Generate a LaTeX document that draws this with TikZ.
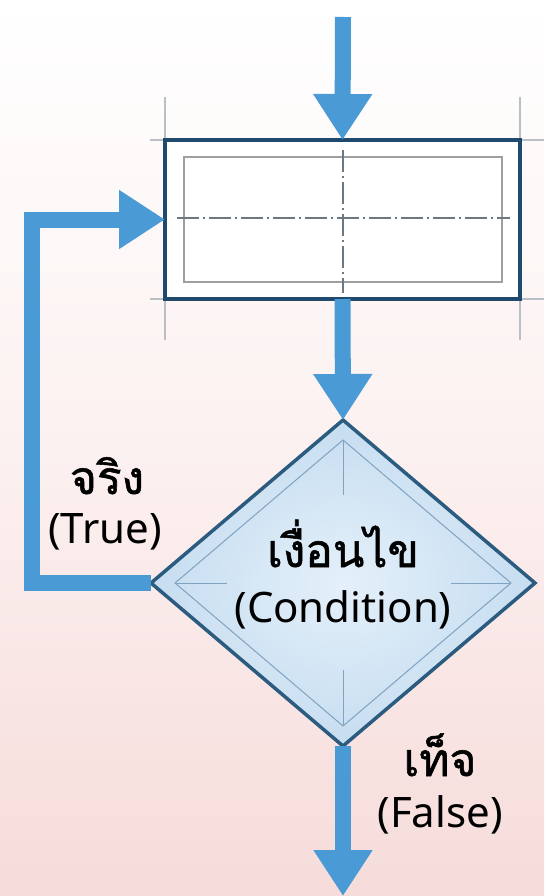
\documentclass[tikz,border=0pt]{standalone}
\usepackage{fontspec}
\setmainfont{Noto Sans}
\newfontfamily\thaifont[Script=Thai, FakeBold=1.2]{Loma}
\usetikzlibrary{shapes.geometric,arrows.meta,calc}
\definecolor{flowblue}{HTML}{4A9AD6}
\definecolor{boxnavy}{HTML}{1F4A6E}
\definecolor{diamondline}{HTML}{2C5B80}
\definecolor{diamondin}{HTML}{E4F0FA}
\definecolor{diamondout}{HTML}{C6DDF0}
\definecolor{innerline}{HTML}{7FA3C0}
\definecolor{guidegray}{HTML}{B9BFC5}
\definecolor{centergray}{HTML}{6E7880}
\definecolor{bgpink}{HTML}{F6DCDA}
\tikzset{
  flow/.style={draw=flowblue, line width=16pt, line join=miter,
    -{Triangle[width=56pt,length=46pt]}},
  guide/.style={draw=guidegray, line width=1.2pt},
  centerline/.style={draw=centergray, line width=1.3pt, dash pattern=on 22pt off 4pt on 2pt off 4pt},
  lbl/.style={text=black, inner sep=0pt, anchor=base},
  thlbl/.style={lbl, font=\thaifont\fontsize{46}{50}\selectfont},
  enlbl/.style={lbl, font=\fontsize{42}{46}\selectfont},
}
\begin{document}
\begin{tikzpicture}[x=1pt,y=-1pt]
  \useasboundingbox (0,0) rectangle (544,896);
  \shade[top color=white, bottom color=bgpink, middle color=white!60!bgpink] (0,0) rectangle (544,896);

  % construction guides
  \draw[guide] (165,97) -- (165,340);
  \draw[guide] (520,97) -- (520,340);
  \draw[guide] (150,140) -- (544,140);
  \draw[guide] (150,299) -- (544,299);

  % process box
  \node[draw=boxnavy, line width=4pt, fill=white, minimum width=355pt, minimum height=159pt,
        inner sep=0pt, outer sep=0pt] (box) at (342.5,219.5) {};
  \draw[draw=gray!75, line width=1.3pt] ($(box.north west)+(19,17)$) rectangle ($(box.south east)+(-18,-17)$);
  \draw[centerline] (177,218) -- (510,218);
  \draw[centerline] (343,150) -- (343,293);

  % decision diamond
  \node[diamond, draw=diamondline, line width=3.5pt, inner color=diamondin, outer color=diamondout,
        minimum width=384pt, minimum height=326pt, inner sep=0pt, outer sep=0pt] (cond) at (343,583) {};
  \draw[innerline, line width=1pt] ($(cond.north)+(0,20)$) -- ($(cond.east)+(-24,0)$) -- ($(cond.south)+(0,-20)$) -- ($(cond.west)+(24,0)$) -- cycle;
  \draw[innerline, line width=0.8pt] ($(cond.north)+(0,20)$) -- (343,495);
  \draw[innerline, line width=0.8pt] (343,670) -- ($(cond.south)+(0,-20)$);
  \draw[innerline, line width=0.8pt] ($(cond.west)+(24,0)$) -- (227,583);
  \draw[innerline, line width=0.8pt] (451,583) -- ($(cond.east)+(-24,0)$);
  \node[thlbl] (condth) at (343,567) {เงื่อนไข};
  \node[enlbl] (conden) at (343,622) {(Condition)};

  % connectors
  \coordinate (start) at (343,17);
  \coordinate (finish) at (343,896);
  \coordinate (loopc) at (32,583);
  \draw[flow] (start) -- (box.north);
  \draw[flow] (box.south) -- (cond.north);
  \draw[flow] (cond.south) -- (finish);
  \draw[flow] (cond.west) -- (loopc) |- (box.west);

  % labels
  \node[thlbl] (trueth) at (107,494) {จริง};
  \node[enlbl] (trueen) at (105,543) {(True)};
  \node[thlbl] (falseth) at (440,776) {เท็จ};
  \node[enlbl] (falseen) at (440,827) {(False)};
\end{tikzpicture}
\end{document}
